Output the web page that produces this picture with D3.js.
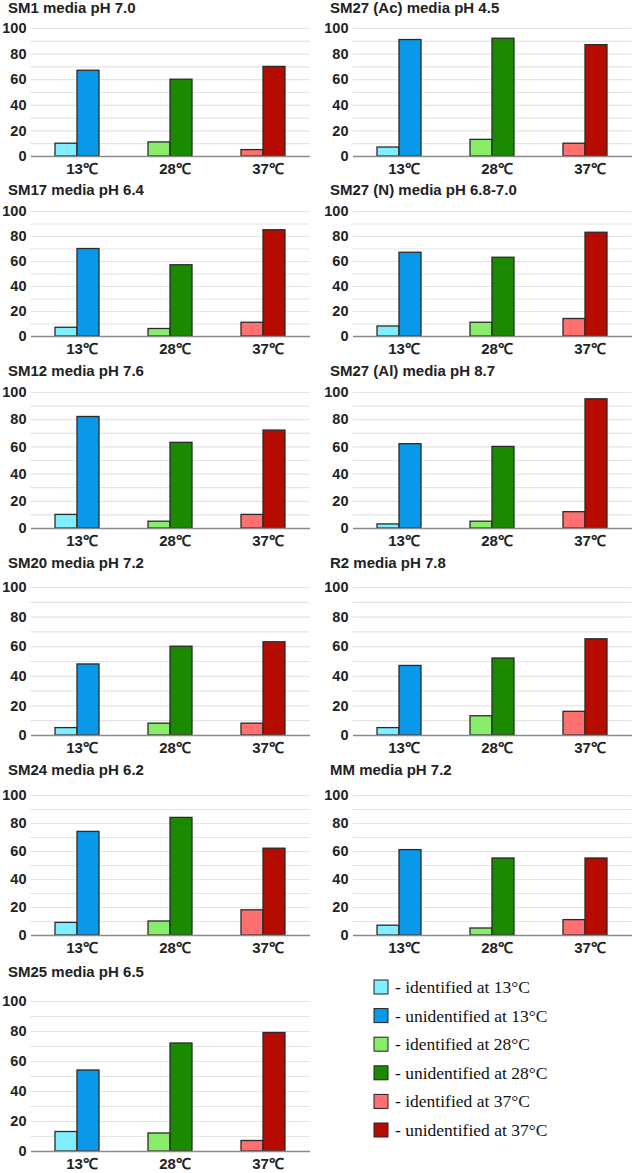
<!DOCTYPE html>
<html>
<head>
<meta charset="utf-8">
<script src="https://cdn.jsdelivr.net/npm/d3@7"></script>
<style>
  body { margin: 0; background: #fff; }
  .tick text { font-family: "Liberation Sans", Arial, sans-serif; font-weight: bold; fill: #222; }
</style>
</head>
<body>
<svg id="chart" width="634" height="1173"></svg>
<script>
// data
const mediaTitles = [
  "SM1 media pH 7.0", "SM27 (Ac) media pH 4.5",
  "SM17 media pH 6.4", "SM27 (N) media pH 6.8-7.0",
  "SM12 media pH 7.6", "SM27 (Al) media pH 8.7",
  "SM20 media pH 7.2", "R2 media pH 7.8",
  "SM24 media pH 6.2", "MM media pH 7.2",
  "SM25 media pH 6.5"
];
const temps = ["13℃", "28℃", "37℃"];
const identified = [
  [10, 11, 5], [7, 13, 10],
  [7, 6, 11], [8, 11, 14],
  [10, 5, 10], [3, 5, 12],
  [5, 8, 8], [5, 13, 16],
  [9, 10, 18], [7, 5, 11],
  [13, 12, 7]
];
const unidentified = [
  [67, 60, 70], [91, 92, 87],
  [70, 57, 85], [67, 63, 83],
  [82, 63, 72], [62, 60, 95],
  [48, 60, 63], [47, 52, 65],
  [74, 84, 62], [61, 55, 55],
  [54, 72, 79]
];
const yTicks = [0, 20, 40, 60, 80, 100];
const legendTemps = ["13°C", "28°C", "37°C"];

// colours per temperature
const lightColors = ["#7FEFFF", "#88EE6A", "#FF7070"];
const darkColors = ["#0A98E8", "#1C8A00", "#B60C00"];

// panel layout (pixel positions)
const rowLayout = [
  { titleY: 13, top: 28, bottom: 156 },
  { titleY: 195, top: 211, bottom: 336 },
  { titleY: 376, top: 392, bottom: 528 },
  { titleY: 568, top: 587, bottom: 735 },
  { titleY: 775, top: 795, bottom: 935 },
  { titleY: 977, top: 1001, bottom: 1151 }
];
const colLayout = [
  { titleX: 8, left: 30.5, right: 309.5 },
  { titleX: 330, left: 352.5, right: 631.5 }
];

const svg = d3.select("#chart");

mediaTitles.forEach(function (title, i) {
  const row = rowLayout[Math.floor(i / 2)];
  const col = colLayout[i % 2];

  const y = d3.scaleLinear().domain([0, 100]).range([row.bottom, row.top]);
  const x0 = d3.scaleBand().domain(temps).range([col.left, col.right]);
  const x1 = d3.scaleBand().domain(["id", "un"]).range([-22, 22]);

  const g = svg.append("g");

  // title
  g.append("text")
    .attr("x", col.titleX)
    .attr("y", row.titleY)
    .style("font-family", "'Liberation Sans', Arial, sans-serif")
    .style("font-weight", "bold")
    .style("font-size", "15px")
    .style("fill", "#222")
    .text(title);

  // grid lines every 10
  g.append("g")
    .attr("transform", "translate(" + col.left + ",0)")
    .call(d3.axisLeft(y).tickValues(d3.range(10, 101, 10)).tickSize(-(col.right - col.left)).tickFormat(""))
    .call(function (a) {
      a.select(".domain").remove();
      a.selectAll("line").attr("stroke", "#e4e4e4").attr("stroke-width", 1.2);
    });

  // y tick labels
  g.append("g")
    .attr("transform", "translate(" + (col.left - 4) + ",0)")
    .call(d3.axisLeft(y).tickValues(yTicks).tickSize(0).tickPadding(0))
    .call(function (a) {
      a.select(".domain").remove();
      a.selectAll("text").style("font-size", "14.5px");
    });

  // bars
  const groups = g.selectAll("g.grp")
    .data(temps.map(function (t, k) {
      return { t: t, k: k, vals: [
        { key: "id", v: identified[i][k], c: lightColors[k] },
        { key: "un", v: unidentified[i][k], c: darkColors[k] }
      ] };
    }))
    .enter()
    .append("g")
    .attr("class", "grp")
    .attr("transform", function (d) { return "translate(" + (x0(d.t) + x0.bandwidth() / 2) + ",0)"; });

  groups.selectAll("rect")
    .data(function (d) { return d.vals; })
    .enter()
    .append("rect")
    .attr("x", function (d) { return x1(d.key); })
    .attr("width", x1.bandwidth())
    .attr("y", function (d) { return y(d.v); })
    .attr("height", function (d) { return y(0) - y(d.v); })
    .attr("fill", function (d) { return d.c; })
    .attr("stroke", "#2a2a2a")
    .attr("stroke-width", 1.3);

  // baseline + x labels
  g.append("g")
    .attr("transform", "translate(0," + row.bottom + ")")
    .call(d3.axisBottom(x0).tickSize(0).tickPadding(7))
    .call(function (a) {
      a.select(".domain").attr("stroke", "#8a8a8a").attr("stroke-width", 1.5);
      a.selectAll("text").style("font-size", "15px").attr("dx", 5);
    });
});

// legend
const legendItems = [];
legendTemps.forEach(function (t, k) {
  legendItems.push({ label: "- identified at " + t, c: lightColors[k] });
  legendItems.push({ label: "- unidentified at " + t, c: darkColors[k] });
});

const legend = svg.append("g").attr("transform", "translate(374,987)");
const li = legend.selectAll("g")
  .data(legendItems)
  .enter()
  .append("g")
  .attr("transform", function (d, i) { return "translate(0," + (i * 28.6) + ")"; });

li.append("rect")
  .attr("x", 0).attr("y", -7)
  .attr("width", 14).attr("height", 14)
  .attr("fill", function (d) { return d.c; })
  .attr("stroke", "#222").attr("stroke-width", 1);

li.append("text")
  .attr("x", 21).attr("y", 6)
  .style("font-family", "'Liberation Serif', 'Times New Roman', serif")
  .style("font-size", "17.5px")
  .style("fill", "#111")
  .text(function (d) { return d.label; });
</script>
</body>
</html>
